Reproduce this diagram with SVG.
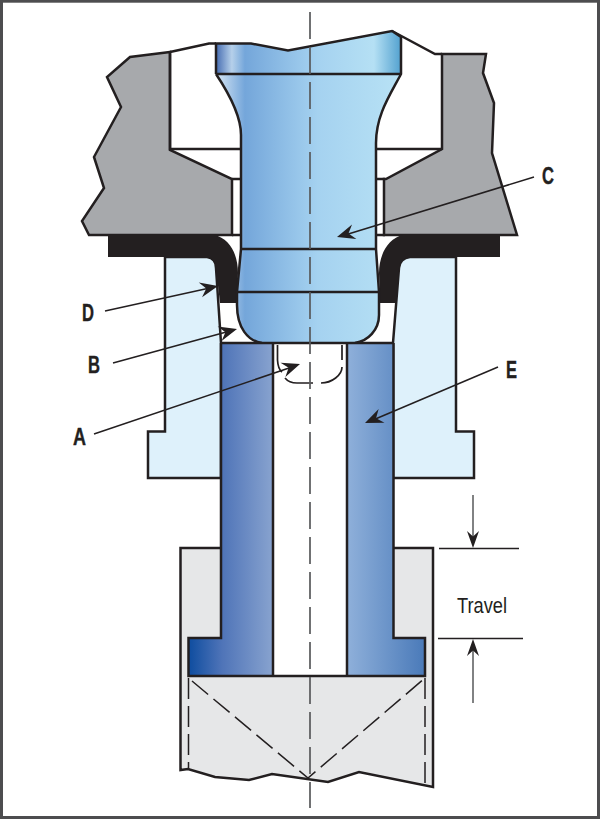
<svg xmlns="http://www.w3.org/2000/svg" width="600" height="819" viewBox="0 0 600 819">
<style>
.o{stroke:#231f20;stroke-width:2.5;stroke-linejoin:miter;fill:none}
.t{stroke:#231f20;stroke-width:1.5;fill:none}
.d{stroke:#231f20;stroke-width:1.5;fill:none;stroke-dasharray:21 7}
.c{stroke:#58595b;stroke-width:1.7;fill:none;stroke-dasharray:27 8}
.l{font-family:"Liberation Sans",Arial,sans-serif;font-weight:700;font-size:23px;fill:#231f20;stroke:#231f20;stroke-width:.4;text-anchor:start}
.g{fill:#a7a9ac}
.h{fill:#231f20}
</style>
<defs>
<linearGradient id="gtop" x1="215" x2="402" y1="0" y2="0" gradientUnits="userSpaceOnUse">
<stop offset="0" stop-color="#3f66ae"/><stop offset=".09" stop-color="#b6d0ea"/><stop offset=".16" stop-color="#74a6da"/><stop offset=".55" stop-color="#a5d2f0"/><stop offset=".85" stop-color="#b5e0f4"/><stop offset="1" stop-color="#4f9fce"/>
</linearGradient>
<linearGradient id="gstem" x1="215" x2="402" y1="0" y2="0" gradientUnits="userSpaceOnUse">
<stop offset="0" stop-color="#dbe8f5"/><stop offset=".16" stop-color="#74a6da"/><stop offset=".55" stop-color="#a5d2f0"/><stop offset="1" stop-color="#b8e2f5"/>
</linearGradient>
<linearGradient id="gfl" x1="188" x2="273" y1="0" y2="0" gradientUnits="userSpaceOnUse"><stop offset="0" stop-color="#0d4c9f"/><stop offset=".4" stop-color="#4f74b8"/><stop offset="1" stop-color="#88a3cf"/></linearGradient>
<linearGradient id="gfr" x1="347" x2="425" y1="0" y2="0" gradientUnits="userSpaceOnUse"><stop offset="0" stop-color="#8fb0da"/><stop offset="1" stop-color="#4a7ab9"/></linearGradient>
<path id="ah" d="M0 0 L-18 -7.500 L-12 0 L-18 7.500 Z"/>
</defs>
<rect id="frame" x="1.500" y="1.200" width="597" height="816.300" fill="#fff" stroke="#4d4d4f" stroke-width="3"/>

<g id="casting-left"><path class="o g" d="M170 52 L130 57 L107 77 L121 107 L94 157 L104 188 L82 221 L89 235 H232 V179 L170 150 Z"/>
<path class="o" d="M170 52 L209 43.500 H216 M170 52 V149 H241 M232 179 H241 M232 235 H241"/></g>
<g id="casting-right"><path class="o g" d="M442 54 V149 L386 179 H384 V235 H517 L492 153 L494 103 L483 73 L486 54 Z"/>
<path class="o" d="M392 31 L435 54 H442 M375 149 H442 M375 179 H385 M375 235 H385"/></g>

<g id="spring-seat"><path class="o" style="fill:#def1fb" d="M165 257 H207 Q216 258 216 268 L221 343 V478 H148 V431.500 H165 Z"/>
<path class="o" style="fill:#def1fb" d="M456 257 H410 Q400 258 399 268 L393 343 V478 H474 V431.500 H456 Z"/></g>

<g id="seal"><path d="M108 235 H214 C230 238 238 255 238 273 L236 303 H220 L216 268 Q215 258 207 257 H108 Z M500 235 H403 C388 238 379 255 379 273 L380 303 H396 L399 268 Q400 258 410 257 H500 Z" fill="#231f20"/></g>

<g id="valve-head"><path d="M216 74 C228 92 241 115 241 135 V249 L237 292 V305 C237 328 248 341 262 343 H355 C368 341 379 330 379 315 V292 L376 249 V143 C376 115 390 95 401 74 Z" fill="url(#gstem)"/>
<path d="M216 43.500 H251 L288 50.500 L392 31 L401 37 V74 H216 Z" fill="url(#gtop)"/>
<path class="o" d="M216 74 V43.500 H251 L288 50.500 L392 31 L401 37 V74 C390 95 376 115 376 143 V249 L379 292 V315 C379 330 368 341 355 343"/>
<path class="o" d="M262 343 C248 341 237 328 237 305 V292 L241 249 V135 C241 115 228 92 216 74"/>
<path class="o" d="M216 74 H401 M241 249 H376 M237 292 H379"/></g>

<g id="retainer"><path d="M180.500 548 H221 V638 H188.500 V676 H425 V638 H393.500 V548 H433 V787 L359 772 L328 782 L272 774 L249 780 L215 777 L188 769 L180.500 770 Z" fill="#e6e7e8"/>
<path class="o" d="M221 548 H180.500 V770 L188 769 L215 777 L249 780 L272 774 L328 782 L359 772 L433 787 V548 H393.500"/></g>

<g id="piston"><path d="M221 343 H273 V676 H188.500 V638 H221 Z" fill="url(#gfl)"/><path d="M347 343 H393.500 V638 H425 V676 H347 Z" fill="url(#gfr)"/>
<path class="o" d="M221 343 V638 H188.500 V676 H425 V638 H393.500 V343 M273 343 V676 M347 343 V676 M221 343 H393.500"/></g>

<g id="hidden-lines"><path class="d" d="M188.500 678 V769 M425 678 V785 M192 681 L308 778 L425 678"/>
<path class="o" style="stroke-width:1.700" d="M277.500 345 V360 Q278 369 282 372 M285 378 Q289 383 297 383 H313 M321 383 C332 383 342 375 342 367 M342 360 V345"/></g>

<g id="centerline"><path class="c" d="M310 12 V808"/></g>

<g id="connectors">
<path class="t" d="M105 311 L212 287.500"/><use href="#ah" class="h" transform="translate(218 286) rotate(-12.500)"/>
<path class="t" d="M113 363 L230 331"/><use href="#ah" class="h" transform="translate(237 329) rotate(-15.300)"/>
<path class="t" d="M94 434 L292 367"/><use href="#ah" class="h" transform="translate(300 364) rotate(-18.800)"/>
<path class="t" d="M534 177 L345 235"/><use href="#ah" class="h" transform="translate(337 237) rotate(163)"/>
<path class="t" d="M498 367 L373 420"/><use href="#ah" class="h" transform="translate(365 423) rotate(157)"/>
<path class="t" d="M439 548.500 H519 M438 638.500 H523"/>
<path stroke="#58595b" stroke-width="1.500" d="M473 495 V540 M473 703 V648"/>
<use href="#ah" class="h" transform="translate(473 548) rotate(90) scale(.95 .8)"/>
<use href="#ah" class="h" transform="translate(473 639) rotate(-90) scale(.95 .8)"/>
</g>
<g id="labels">
<text class="l" x="542" y="184" textLength="12" lengthAdjust="spacingAndGlyphs">C</text>
<text class="l" x="82" y="321" textLength="12" lengthAdjust="spacingAndGlyphs">D</text>
<text class="l" x="88" y="373" textLength="12" lengthAdjust="spacingAndGlyphs">B</text>
<text class="l" x="73" y="445" textLength="13" lengthAdjust="spacingAndGlyphs">A</text>
<text class="l" x="506" y="378" textLength="11" lengthAdjust="spacingAndGlyphs">E</text>
<text x="457" y="613" font-family="'Liberation Sans',Arial,sans-serif" font-size="22" fill="#231f20" textLength="50" lengthAdjust="spacingAndGlyphs">Travel</text>
</g>
</svg>
